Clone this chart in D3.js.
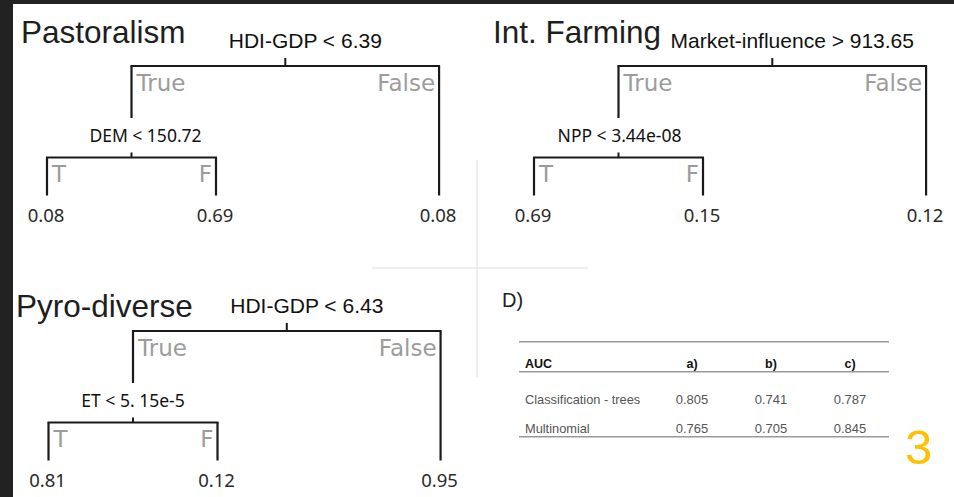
<!DOCTYPE html>
<html>
<head>
<meta charset="utf-8">
<script src="https://cdn.jsdelivr.net/npm/d3@7"></script>
<style>
  html, body { margin: 0; padding: 0; background: #222; }
  svg { display: block; }
</style>
</head>
<body>
<svg width="954" height="497"></svg>
<script>
// tree data
const panelTitles = ["Pastoralism", "Int. Farming", "Pyro-diverse"];
const rootSplits = ["HDI-GDP < 6.39", "Market-influence > 913.65", "HDI-GDP < 6.43"];
const childSplits = ["DEM < 150.72", "NPP < 3.44e-08", "ET < 5. 15e-5"];
const leafValues = [
  [0.08, 0.69, 0.08],
  [0.69, 0.15, 0.12],
  [0.81, 0.12, 0.95],
];
const rootBranches = ["True", "False"];
const childBranches = ["T", "F"];

// AUC table data
const aucColumns = ["a)", "b)", "c)"];
const aucModels = ["Classification - trees", "Multinomial"];
const aucTrees = [0.805, 0.741, 0.787];
const aucMultinomial = [0.765, 0.705, 0.845];

// layout of each panel (left leaf x, root bar y, title position, child label shift)
const panelLeft = [47, 534, 48.5];
const panelTop = [66, 66, 331];
const titlePos = [[21, 42.5], [493, 42.5], [16, 316.7]];
const childLabelDx = [14, 1, 0];

const svg = d3.select("svg");

svg.append("rect")
  .attr("x", 13).attr("y", 4)
  .attr("width", 954 - 13).attr("height", 497 - 4)
  .attr("fill", "#fff");

// faint cross between the panels
svg.append("line")
  .attr("x1", 477).attr("x2", 477).attr("y1", 160).attr("y2", 377)
  .attr("stroke", "#ddd").attr("stroke-width", 1);
svg.append("line")
  .attr("x1", 372).attr("x2", 588).attr("y1", 268).attr("y2", 268)
  .attr("stroke", "#ddd").attr("stroke-width", 1);

const tree = d3.tree()
  .nodeSize([169, 1])
  .separation((a, b) => (a.depth === 1 ? 1.82 : 1));

const levelGap = 91.5;
const leafDrop = 129.5;

panelTitles.forEach((title, i) => {
  const data = {
    name: rootSplits[i],
    children: [
      {
        name: childSplits[i],
        branch: rootBranches[0],
        children: [
          { value: leafValues[i][0], branch: childBranches[0] },
          { value: leafValues[i][1], branch: childBranches[1] },
        ],
      },
      { value: leafValues[i][2], branch: rootBranches[1] },
    ],
  };

  const root = tree(d3.hierarchy(data));
  const minX = d3.min(root.leaves(), d => d.x);
  const top = panelTop[i];
  const x = d3.scaleLinear().domain([minX, minX + 1]).range([panelLeft[i], panelLeft[i] + 1]);
  const barY = d => top + d.depth * levelGap;
  const leafY = top + leafDrop;

  const g = svg.append("g");

  root.descendants().filter(d => d.children).forEach(node => {
    const kids = node.children;
    const by = barY(node);
    // horizontal bar
    g.append("line")
      .attr("x1", x(kids[0].x) - 1).attr("x2", x(kids[kids.length - 1].x) + 1)
      .attr("y1", by).attr("y2", by)
      .attr("stroke", "#1a1a1a").attr("stroke-width", 2.2);
    // tick up to the split label
    g.append("line")
      .attr("x1", x(node.x)).attr("x2", x(node.x))
      .attr("y1", by - (node.depth === 0 ? 8 : 5)).attr("y2", by)
      .attr("stroke", "#1a1a1a").attr("stroke-width", 2);
    // split label
    g.append("text")
      .attr("x", x(node.x) + (node.depth === 0 ? 20 : childLabelDx[i]))
      .attr("y", by - (node.depth === 0 ? 18 : 15.5))
      .attr("text-anchor", "middle")
      .attr("font-family", node.depth === 0 ? "Liberation Sans" : "Noto Sans")
      .attr("font-size", node.depth === 0 ? 21 : 17.5)
      .attr("fill", "#111")
      .text(node.data.name);
    // drops to children
    kids.forEach(k => {
      g.append("line")
        .attr("x1", x(k.x)).attr("x2", x(k.x))
        .attr("y1", by).attr("y2", k.children ? by + 52 : leafY)
        .attr("stroke", "#1a1a1a").attr("stroke-width", 2.2);
    });
  });

  // leaf values
  g.selectAll("text.leaf")
    .data(root.leaves())
    .join("text")
    .attr("class", "leaf")
    .attr("x", d => x(d.x) - 1)
    .attr("y", top + 155.5)
    .attr("text-anchor", "middle")
    .attr("font-family", "Noto Sans")
    .attr("font-size", 18.5)
    .attr("fill", "#2a2a2a")
    .text(d => d3.format(".2f")(d.data.value));

  // title (white box behind, as in the pasted figure)
  const tt = svg.append("g");
  if (i === 2) {
    tt.append("rect")
      .attr("x", 13).attr("y", titlePos[i][1] - 30)
      .attr("width", 185).attr("height", 39.5)
      .attr("fill", "#fff");
  }
  tt.append("text")
    .attr("x", titlePos[i][0]).attr("y", titlePos[i][1])
    .attr("font-family", "Liberation Sans")
    .attr("font-size", 31.5)
    .attr("fill", "#1e1e1e")
    .text(title);

  // branch labels (True/False, T/F)
  root.descendants().filter(d => d.parent).forEach(k => {
    const p = k.parent;
    const first = p.children[0] === k;
    const by = barY(p);
    svg.append("text")
      .attr("x", x(k.x) + (first ? 5 : -4))
      .attr("y", by + (p.depth === 0 ? 25 : 24.5))
      .attr("text-anchor", first ? "start" : "end")
      .attr("font-family", "DejaVu Sans")
      .attr("font-size", 23)
      .attr("fill", "#9c9c9c")
      .text(k.data.branch);
  });
});

// D) table of AUC values
svg.append("text")
  .attr("x", 502).attr("y", 307)
  .attr("font-family", "Liberation Sans")
  .attr("font-size", 20)
  .attr("fill", "#222")
  .text("D)");

const colX = d3.scalePoint().domain(aucColumns).range([692, 850]);
const rowY = d3.scalePoint().domain(aucModels).range([404, 433.3]);

[341.7, 371.7, 436.7].forEach(y => {
  svg.append("line")
    .attr("x1", 519).attr("x2", 889).attr("y1", y).attr("y2", y)
    .attr("stroke", "#999").attr("stroke-width", 1.5);
});

svg.append("text")
  .attr("x", 525).attr("y", 368)
  .attr("font-family", "Liberation Sans").attr("font-size", 12.5)
  .attr("font-weight", "bold").attr("fill", "#111")
  .text("AUC");

svg.selectAll("text.col")
  .data(aucColumns)
  .join("text")
  .attr("class", "col")
  .attr("x", d => colX(d)).attr("y", 368)
  .attr("text-anchor", "middle")
  .attr("font-family", "Liberation Sans").attr("font-size", 12.5)
  .attr("font-weight", "bold").attr("fill", "#111")
  .text(d => d);

const rows = [aucTrees, aucMultinomial];
aucModels.forEach((m, r) => {
  svg.append("text")
    .attr("x", 525).attr("y", rowY(m))
    .attr("font-family", "Liberation Sans").attr("font-size", 12.8)
    .attr("fill", "#555")
    .text(m);
  svg.selectAll("text.v" + r)
    .data(rows[r])
    .join("text")
    .attr("class", "v" + r)
    .attr("x", (d, j) => colX(aucColumns[j])).attr("y", rowY(m))
    .attr("text-anchor", "middle")
    .attr("font-family", "Liberation Sans").attr("font-size", 13)
    .attr("fill", "#555")
    .text(d => d3.format(".3f")(d));
});

// slide number
svg.append("text")
  .attr("x", 905).attr("y", 464)
  .attr("font-family", "Liberation Sans")
  .attr("font-size", 49)
  .attr("fill", "#FFC000")
  .text("3");
</script>
</body>
</html>
